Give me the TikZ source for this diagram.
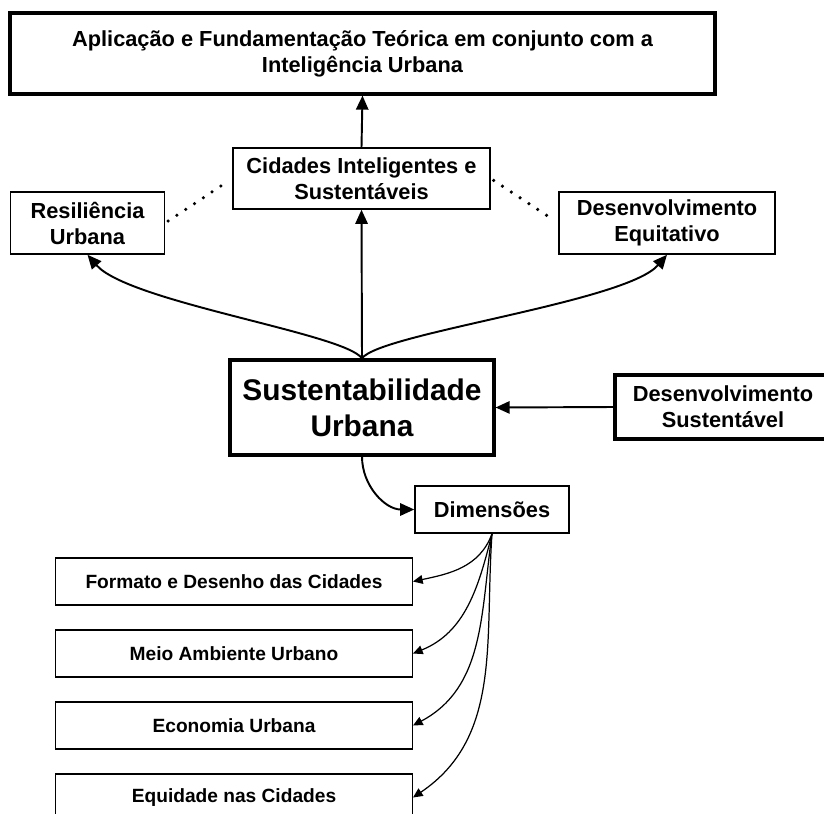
\documentclass[tikz,border=0pt]{standalone}
\usepackage{fontspec}
\setmainfont{Liberation Sans}
\usepackage{tikz}
\usetikzlibrary{positioning,arrows.meta}

\begin{document}
\begin{tikzpicture}[
	box/.style={draw, line width=0.85pt, align=center, inner sep=0pt, font=\bfseries\fontsize{12.4}{14.8}\selectfont},
	thickbox/.style={box, line width=1.8pt},
	dimbox/.style={box, minimum width=7.13cm, minimum height=0.94cm, font=\bfseries\fontsize{10.9}{13}\selectfont},
	arr/.style={line width=1.1pt, -{Triangle[length=8pt,width=7pt]}},
	thinarr/.style={line width=0.7pt, -{Triangle[length=5.5pt,width=5pt]}},
	dots/.style={line width=2pt, line cap=round, dash pattern=on 0pt off 6pt, shorten <=2pt, shorten >=4pt}
	]
	\useasboundingbox (0,0) rectangle (16.48,-16.28);
	\clip (0,0) rectangle (16.48,-16.28);

	\node [thickbox, minimum width=14.1cm, minimum height=1.62cm] (apl) at (7.25,-1.07) {Aplicação e Fundamentação Teórica em conjunto com a\\Inteligência Urbana};
	\node [box, minimum width=5.14cm, minimum height=1.22cm] (cid) at (7.23,-3.57) {Cidades Inteligentes e\\Sustentáveis};
	\node [box, minimum width=3.08cm, minimum height=1.24cm] (res) at (1.75,-4.46) {Resiliência\\Urbana};
	\node [box, minimum width=4.32cm, minimum height=1.24cm] (deq) at (13.34,-4.46) {Desenvolvimento\\Equitativo};
	\node [thickbox, minimum width=5.28cm, minimum height=1.9cm, font=\bfseries\fontsize{17}{20.5}\selectfont] (sust) at (7.24,-8.15) {Sustentabilidade\\Urbana};
	\node [thickbox, minimum width=4.32cm, minimum height=1.28cm] (dsus) at (14.46,-8.14) {Desenvolvimento\\Sustentável};
	\node [box, minimum width=3.08cm, minimum height=0.94cm] (dim) at (9.84,-10.19) {Dimensões};

	\node [dimbox] (formato) at (4.68,-11.63) {Formato e Desenho das Cidades};
	\node [dimbox] (meio)    at (4.68,-13.07) {Meio Ambiente Urbano};
	\node [dimbox] (econ)    at (4.68,-14.51) {Economia Urbana};
	\node [dimbox] (equi)    at (4.68,-15.95) {Equidade nas Cidades};

	\draw [arr] (cid.north) -- (apl.south);
	\draw [arr] (sust.north) -- (cid.south);
	\draw [arr] (sust.north) .. controls +(-0.34,0.5) and +(0.82,-0.95) .. (res.south);
	\draw [arr] (sust.north) .. controls +(0.34,0.5) and +(-0.82,-0.95) .. (deq.south);
	\draw [dots] (res.east) -- (cid.west);
	\draw [dots] (cid.east) -- (deq.west);
	\draw [arr] (dsus.west) -- (sust.east);
	\draw [arr] (sust.south) to[out=-90, in=180] (dim.west);

	\draw [thinarr] (dim.south) to[out=-110, in=12] (formato.east);
	\draw [thinarr] (dim.south) to[out=-104, in=22] (meio.east);
	\draw [thinarr] (dim.south) to[out=-98, in=28] (econ.east);
	\draw [thinarr] (dim.south) to[out=-94, in=34] (equi.east);
\end{tikzpicture}
\end{document}
